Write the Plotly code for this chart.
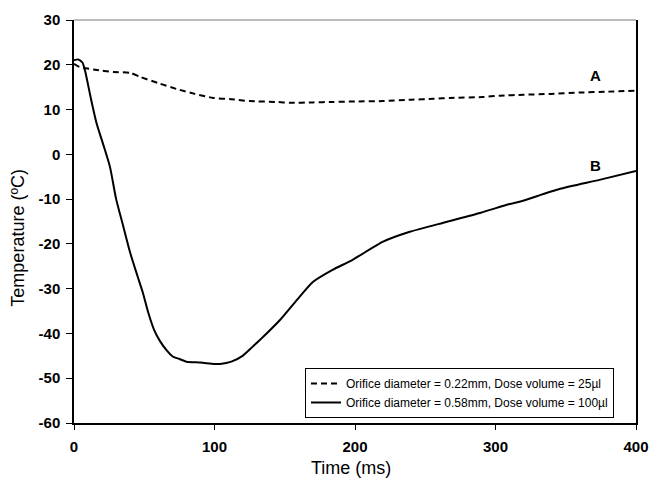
import plotly.graph_objects as go

# Curve A: orifice 0.22 mm, 25 µl
time_a = [0, 4, 15, 28, 40, 47, 60, 73, 86, 99, 112, 125, 144, 154, 170, 184, 200, 220, 240, 256, 268, 291, 303, 320, 339, 360, 380, 400]
temp_a = [20.2, 19.5, 18.9, 18.4, 18.2, 17.3, 15.9, 14.6, 13.5, 12.6, 12.3, 11.9, 11.7, 11.5, 11.6, 11.7, 11.8, 11.9, 12.2, 12.4, 12.6, 12.8, 13.1, 13.3, 13.5, 13.8, 14.0, 14.2]

# Curve B: orifice 0.58 mm, 100 µl
time_b = [0, 3, 6, 8, 12, 16, 21, 25.6, 30, 35, 40, 45, 49, 53, 57, 61, 66, 70.5, 75, 80, 90, 100, 104, 112, 120, 127, 134.5, 146.6, 158.7, 170, 184, 198, 220, 239, 265, 289, 310, 317, 346, 374, 400]
temp_b = [21.0, 21.2, 20.5, 18.5, 12.5, 7.0, 2.0, -2.8, -10.0, -16.0, -22.0, -27.0, -30.9, -35.5, -39.2, -41.6, -43.8, -45.2, -45.7, -46.3, -46.5, -46.8, -46.8, -46.3, -45.0, -43.0, -40.8, -37.0, -32.5, -28.5, -25.8, -23.6, -19.5, -17.3, -15.1, -13.1, -11.1, -10.6, -7.7, -5.7, -3.7]

legend_a = "Orifice diameter = 0.22mm, Dose volume = 25µl"
legend_b = "Orifice diameter = 0.58mm, Dose volume = 100µl"

x_ticks = [0, 100, 200, 300, 400]
x_labels = ["0", "100", "200", "300", "400"]
y_ticks = [30, 20, 10, 0, -10, -20, -30, -40, -50, -60]
y_labels = ["30", "20", "10", "0", "-10", "-20", "-30", "-40", "-50", "-60"]

FONT = "Arial, Liberation Sans"

fig = go.Figure()
fig.add_trace(go.Scatter(x=time_a, y=temp_a, mode="lines", name=legend_a,
                         line=dict(color="black", width=2, dash="6px,4px", shape="spline", smoothing=0.6)))
fig.add_trace(go.Scatter(x=time_b, y=temp_b, mode="lines", name=legend_b,
                         line=dict(color="black", width=2, shape="spline", smoothing=0.6)))

fig.add_annotation(x=371, y=17.6, text="<b>A</b>", showarrow=False,
                   font=dict(family=FONT, size=15, color="black"))
fig.add_annotation(x=371, y=-2.4, text="<b>B</b>", showarrow=False,
                   font=dict(family=FONT, size=15, color="black"))

# axis titles
fig.add_annotation(xref="paper", yref="paper", x=0.493, y=-0.112, text="Time (ms)",
                   showarrow=False, xanchor="center", yanchor="middle",
                   font=dict(family=FONT, size=18, color="black"))
fig.add_annotation(xref="paper", yref="paper", x=-0.0996, y=0.46, text="Temperature (ºC)",
                   showarrow=False, xanchor="center", yanchor="middle", textangle=-90,
                   font=dict(family=FONT, size=18, color="black"))

# top frame line (grey)
fig.add_shape(type="line", xref="paper", yref="paper", x0=0, x1=1, y0=1, y1=1,
              line=dict(color="#777777", width=1))

fig.update_layout(
    width=652, height=478,
    margin=dict(l=74, r=16, t=20, b=55),
    plot_bgcolor="white", paper_bgcolor="white",
    font=dict(family=FONT, color="black"),
    showlegend=True,
    legend=dict(x=0.411, y=0.1365, xanchor="left", yanchor="top",
                bordercolor="black", borderwidth=1, bgcolor="white",
                font=dict(size=12, family=FONT),
                tracegroupgap=0, itemwidth=30),
    xaxis=dict(range=[0, 400], tickvals=x_ticks, ticktext=x_labels, ticks="outside", ticklen=5, tickwidth=1,
               tickcolor="black", showline=True, linecolor="black", linewidth=1.5,
               showgrid=False, zeroline=False, automargin=False, ticklabelstandoff=4,
               tickfont=dict(size=15, family=FONT, weight="bold")),
    yaxis=dict(range=[-60, 30], tickvals=y_ticks, ticktext=y_labels, ticks="outside", ticklen=6, tickwidth=1,
               tickcolor="black", showline=True, linecolor="black", linewidth=1.5, mirror=True,
               showgrid=False, zeroline=False, automargin=False, ticklabelstandoff=3,
               tickfont=dict(size=15, family=FONT, weight="bold")),
)

fig.write_html("out.html", config={"displayModeBar": False},
               post_script="document.body.style.margin='0';document.body.style.overflow='hidden';")
